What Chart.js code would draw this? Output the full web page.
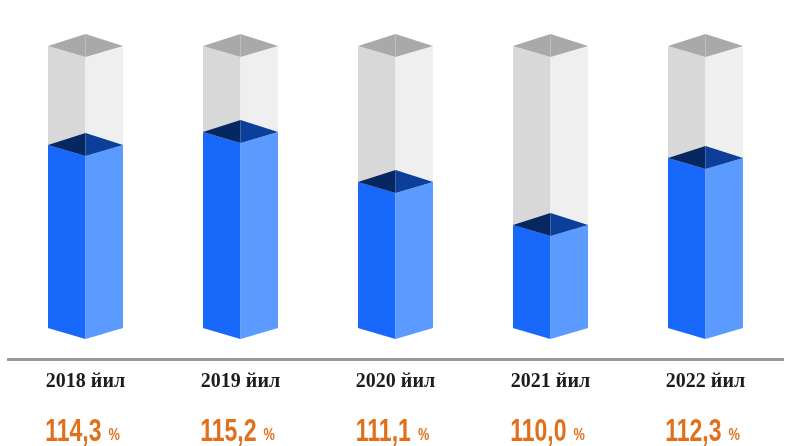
<!DOCTYPE html>
<html>
<head>
<meta charset="utf-8">
<script src="https://cdn.jsdelivr.net/npm/chart.js@4.4.1/dist/chart.umd.min.js"></script>
<style>
    html, body { margin: 0; padding: 0; background: #fff; }
    #wrap { width: 788px; height: 446px; }
</style>
</head>
<body>
<div id="wrap"><canvas id="grafico"></canvas></div>
<script>
// datos
const anios = ["2018 йил", "2019 йил", "2020 йил", "2021 йил", "2022 йил"];
const crecimiento = ["114,3", "115,2", "111,1", "110,0", "112,3"];
// nivel de llenado de cada columna (% del alto de la columna gris)
const nivelLleno = [64.9, 69.5, 51.8, 36.5, 60.3];
const columnaVacia = [100, 100, 100, 100, 100];

const colores = {
    gris: { izq: "#d8d8d8", der: "#efefef", tapa: "#a9a9a9", tapa2: "#a9a9a9" },
    azul: { izq: "#1869fb", der: "#5b9bff", tapa: "#06275f", tapa2: "#0b3f99" }
};

function dibujarPrisma(ctx, x, y, base, w, c) {
    const arriba = 12, abajo = 11;
    // cara izquierda
    ctx.fillStyle = c.izq;
    ctx.beginPath();
    ctx.moveTo(x - w, y);
    ctx.lineTo(x, y + abajo);
    ctx.lineTo(x, base + abajo);
    ctx.lineTo(x - w, base);
    ctx.closePath();
    ctx.fill();
    // cara derecha
    ctx.fillStyle = c.der;
    ctx.beginPath();
    ctx.moveTo(x, y + abajo);
    ctx.lineTo(x + w, y);
    ctx.lineTo(x + w, base);
    ctx.lineTo(x, base + abajo);
    ctx.closePath();
    ctx.fill();
    // tapa (dos mitades)
    ctx.fillStyle = c.tapa;
    ctx.beginPath();
    ctx.moveTo(x, y - arriba);
    ctx.lineTo(x - w, y);
    ctx.lineTo(x, y + abajo);
    ctx.closePath();
    ctx.fill();
    ctx.fillStyle = c.tapa2;
    ctx.beginPath();
    ctx.moveTo(x, y - arriba);
    ctx.lineTo(x + w, y);
    ctx.lineTo(x, y + abajo);
    ctx.closePath();
    ctx.fill();
}

const prisma3D = {
    id: "prisma3D",
    afterDatasetsDraw(chart) {
        const ctx = chart.ctx;
        ctx.save();
        chart.data.datasets.forEach((ds, di) => {
            const meta = chart.getDatasetMeta(di);
            meta.data.forEach(bar => {
                const { x, y, base, width } = bar.getProps(["x", "y", "base", "width"], true);
                dibujarPrisma(ctx, x, y, base, width / 2, ds.caras);
            });
        });
        ctx.restore();
    },
    afterDraw(chart) {
        // porcentajes en naranja debajo de los años
        const ctx = chart.ctx;
        const escalaX = chart.scales.x;
        const esc = 0.72;
        ctx.save();
        ctx.fillStyle = "#e0701c";
        ctx.textBaseline = "alphabetic";
        crecimiento.forEach((v, i) => {
            const cx = escalaX.getPixelForValue(i) - 3;
            const yBase = 441;
            ctx.font = "bold 32px 'Liberation Sans'";
            const anchoNum = ctx.measureText(v).width * esc;
            ctx.font = "bold 17px 'Liberation Sans'";
            const anchoPct = ctx.measureText("%").width * 0.75;
            const total = anchoNum + 7 + anchoPct;
            const x0 = cx - total / 2;
            ctx.save();
            ctx.translate(x0, yBase);
            ctx.scale(esc, 1);
            ctx.font = "bold 32px 'Liberation Sans'";
            ctx.textAlign = "left";
            ctx.fillText(v, 0, 0);
            ctx.restore();
            ctx.save();
            ctx.translate(x0 + anchoNum + 7, yBase - 1);
            ctx.scale(0.75, 1);
            ctx.font = "bold 17px 'Liberation Sans'";
            ctx.fillText("%", 0, 0);
            ctx.restore();
        });
        ctx.restore();
    }
};

new Chart(document.getElementById("grafico").getContext("2d"), {
    type: "bar",
    data: {
        labels: anios,
        datasets: [
            {
                data: columnaVacia,
                caras: colores.gris,
                backgroundColor: "rgba(0,0,0,0)",
                grouped: false,
                barPercentage: 0.484,
                categoryPercentage: 1
            },
            {
                data: nivelLleno,
                caras: colores.azul,
                backgroundColor: "rgba(0,0,0,0)",
                grouped: false,
                barPercentage: 0.484,
                categoryPercentage: 1
            }
        ]
    },
    options: {
        responsive: true,
        maintainAspectRatio: false,
        animation: false,
        layout: { padding: { top: 46, left: 8, right: 5, bottom: 41 } },
        plugins: { legend: { display: false }, tooltip: { enabled: false } },
        scales: {
            x: {
                grid: { display: false, drawTicks: false },
                border: { display: true, color: "#9a9a9a", width: 3 },
                ticks: {
                    color: "#1c1c1c",
                    padding: 11,
                    font: { family: "'Liberation Serif'", size: 20, weight: "bold" }
                }
            },
            y: {
                display: false,
                min: -11,
                max: 100
            }
        }
    },
    plugins: [prisma3D]
});
</script>
</body>
</html>
